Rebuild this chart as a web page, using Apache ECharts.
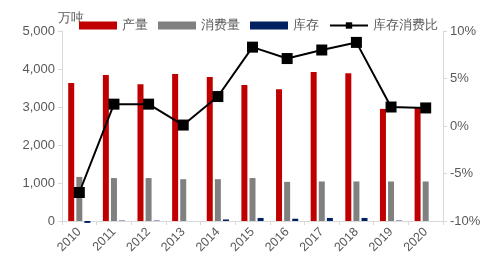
<!DOCTYPE html>
<html><head><meta charset="utf-8">
<script src="https://cdn.jsdelivr.net/npm/echarts@6/dist/echarts.min.js"></script>
<style>html,body{margin:0;padding:0;background:#fff}#c{width:497px;height:268px}</style>
</head><body><div id="c"></div>
<script>
var years = ['2010','2011','2012','2013','2014','2015','2016','2017','2018','2019','2020'];
var production = [3630, 3840, 3600, 3870, 3790, 3580, 3470, 3920, 3890, 2950, 3000];
var consumption = [1160, 1130, 1130, 1100, 1100, 1130, 1030, 1040, 1040, 1040, 1040];
var inventory = [-50, 10, 10, 0, 40, 80, 60, 80, 80, 10, 0];
var ratio = [-7.0, 2.3, 2.3, 0.1, 3.1, 8.3, 7.1, 8.0, 8.8, 2.0, 1.9];
var leftTicks = [0, 1000, 2000, 3000, 4000, 5000];
var rightTicks = [-10, -5, 0, 5, 10];

var font = 'Liberation Sans';
var txt = '#595959';
var chart = echarts.init(document.getElementById('c'), null, {renderer: 'canvas'});
chart.setOption({
  animation: false,
  textStyle: {fontFamily: font},
  legend: {
    top: 14, left: 74, itemGap: 10, itemWidth: 38, itemHeight: 8,
    textStyle: {color: txt, fontSize: 13, fontFamily: font},
    data: [
      {name: '产量', icon: 'rect'},
      {name: '消费量', icon: 'rect'},
      {name: '库存', icon: 'rect'},
      {name: '库存消费比'}
    ]
  },
  grid: {left: 62, right: 54, top: 31, bottom: 47},
  xAxis: {
    type: 'category', data: years,
    axisLine: {lineStyle: {color: '#d9d9d9', width: 1}},
    axisTick: {show: true, alignWithLabel: false, length: 4, lineStyle: {color: '#d9d9d9'}},
    axisLabel: {rotate: 45, color: txt, fontSize: 12.5, margin: 9, interval: 0, fontFamily: font}
  },
  yAxis: [
    {
      type: 'value', min: 0, max: 5000, interval: 1000,
      name: '万吨', nameLocation: 'end', nameGap: 6,
      nameTextStyle: {color: txt, fontSize: 13, align: 'left', padding: [0,0,0,-4], fontFamily: font},
      axisLine: {show: true, lineStyle: {color: '#d9d9d9'}},
      axisTick: {show: true, length: 4, lineStyle: {color: '#d9d9d9'}},
      splitLine: {show: false},
      axisLabel: {color: txt, fontSize: 13, margin: 7, fontFamily: font,
        formatter: function(v){ return leftTicks.indexOf(v) >= 0 ? v.toLocaleString('en-US') : ''; }}
    },
    {
      type: 'value', min: -10, max: 10, interval: 5, position: 'right',
      axisLine: {show: true, lineStyle: {color: '#d9d9d9'}},
      axisTick: {show: true, length: 4, lineStyle: {color: '#d9d9d9'}},
      splitLine: {show: false},
      axisLabel: {color: txt, fontSize: 13, margin: 7, fontFamily: font,
        formatter: function(v){ return rightTicks.indexOf(v) >= 0 ? v + '%' : ''; }}
    }
  ],
  series: [
    {name: '产量', type: 'bar', data: production, barWidth: 6, barGap: '35%', clip: false,
     itemStyle: {color: '#c00000'}},
    {name: '消费量', type: 'bar', data: consumption, barWidth: 6, barGap: '35%', clip: false,
     itemStyle: {color: '#808080'}},
    {name: '库存', type: 'bar', data: inventory, barWidth: 6, barGap: '35%', clip: false,
     itemStyle: {color: '#002060'}},
    {name: '库存消费比', type: 'line', yAxisIndex: 1, data: ratio,
     symbol: 'rect', symbolSize: 11, showAllSymbol: true,
     lineStyle: {color: '#000', width: 2}, itemStyle: {color: '#000'}}
  ]
});
</script></body></html>
